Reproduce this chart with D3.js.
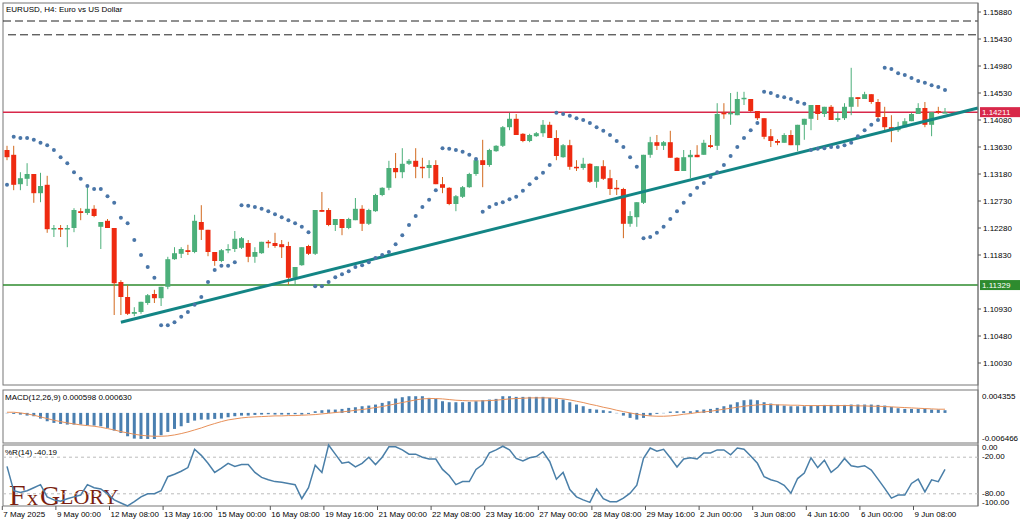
<!DOCTYPE html>
<meta charset="utf-8">
<script src="https://d3js.org/d3.v7.min.js"></script>
<style>
  body { margin: 0; background: #fff; }
  text { font-family: "Liberation Sans", Arial, sans-serif; font-size: 8px; fill: #000; }
</style>
<svg id="chart" width="1024" height="524"></svg>
<script>
// EURUSD H4 candles: [open, high, low, close]
var candles = [
[1.1358,1.1365,1.1341,1.1346],[1.1350,1.1365,1.1291,1.1300],[1.1301,1.1321,1.1291,1.1311],[1.1310,1.1336,1.1298,1.1318],
[1.1318,1.1318,1.1270,1.1286],[1.1286,1.1320,1.1271,1.1298],[1.1300,1.1315,1.1220,1.1226],[1.1226,1.1233,1.1213,1.1228],
[1.1228,1.1233,1.1213,1.1226],[1.1226,1.1233,1.1196,1.1228],[1.1228,1.1261,1.1221,1.1258],[1.1256,1.1261,1.1241,1.1253],
[1.1253,1.1300,1.1250,1.1260],[1.1260,1.1266,1.1246,1.1248],[1.1230,1.1238,1.1193,1.1238],[1.1240,1.1243,1.1228,1.1228],
[1.1228,1.1228,1.1083,1.1136],[1.1138,1.1141,1.1083,1.1113],[1.1113,1.1133,1.1083,1.1085],[1.1085,1.1096,1.1081,1.1088],
[1.1088,1.1105,1.1085,1.1105],[1.1103,1.1118,1.1100,1.1116],[1.1118,1.1125,1.1103,1.1111],[1.1111,1.1130,1.1098,1.1130],
[1.1130,1.1180,1.1126,1.1176],[1.1176,1.1196,1.1175,1.1186],[1.1185,1.1196,1.1178,1.1193],[1.1191,1.1200,1.1183,1.1188],
[1.1188,1.1250,1.1186,1.1240],[1.1238,1.1266,1.1208,1.1225],[1.1225,1.1225,1.1181,1.1188],[1.1188,1.1188,1.1165,1.1173],
[1.1173,1.1193,1.1171,1.1191],[1.1191,1.1201,1.1186,1.1193],[1.1193,1.1223,1.1188,1.1210],[1.1195,1.1213,1.1193,1.1211],
[1.1203,1.1208,1.1171,1.1180],[1.1180,1.1196,1.1170,1.1188],[1.1186,1.1205,1.1185,1.1205],[1.1205,1.1208,1.1195,1.1203],
[1.1203,1.1220,1.1195,1.1198],[1.1201,1.1208,1.1178,1.1196],[1.1198,1.1205,1.1133,1.1145],[1.1145,1.1163,1.1133,1.1163],
[1.1166,1.1196,1.1165,1.1196],[1.1198,1.1200,1.1183,1.1185],[1.1185,1.1258,1.1183,1.1258],[1.1258,1.1288,1.1255,1.1255],
[1.1258,1.1261,1.1231,1.1233],[1.1233,1.1243,1.1223,1.1243],[1.1243,1.1243,1.1216,1.1228],[1.1228,1.1245,1.1226,1.1243],
[1.1241,1.1278,1.1241,1.1260],[1.1260,1.1266,1.1223,1.1235],[1.1235,1.1260,1.1233,1.1258],[1.1256,1.1285,1.1255,1.1283],
[1.1283,1.1296,1.1281,1.1295],[1.1295,1.1340,1.1291,1.1328],[1.1328,1.1353,1.1311,1.1321],[1.1321,1.1361,1.1311,1.1335],
[1.1335,1.1343,1.1333,1.1340],[1.1340,1.1361,1.1311,1.1330],[1.1330,1.1345,1.1311,1.1328],[1.1328,1.1341,1.1311,1.1333],
[1.1333,1.1341,1.1301,1.1301],[1.1301,1.1313,1.1286,1.1295],[1.1295,1.1296,1.1266,1.1268],[1.1268,1.1283,1.1256,1.1281],
[1.1280,1.1298,1.1278,1.1296],[1.1296,1.1320,1.1295,1.1318],[1.1318,1.1343,1.1315,1.1341],[1.1341,1.1375,1.1296,1.1333],
[1.1333,1.1360,1.1330,1.1358],[1.1356,1.1366,1.1355,1.1365],[1.1365,1.1398,1.1363,1.1396],[1.1396,1.1420,1.1391,1.1410],
[1.1410,1.1418,1.1383,1.1383],[1.1385,1.1386,1.1371,1.1373],[1.1373,1.1385,1.1371,1.1383],[1.1381,1.1388,1.1380,1.1386],
[1.1386,1.1408,1.1380,1.1400],[1.1400,1.1405,1.1378,1.1378],[1.1378,1.1391,1.1341,1.1348],[1.1346,1.1368,1.1345,1.1366],
[1.1366,1.1375,1.1325,1.1330],[1.1330,1.1341,1.1323,1.1328],[1.1328,1.1345,1.1325,1.1335],[1.1335,1.1336,1.1303,1.1305],
[1.1305,1.1331,1.1295,1.1331],[1.1331,1.1341,1.1308,1.1310],[1.1311,1.1325,1.1283,1.1293],[1.1295,1.1308,1.1283,1.1293],
[1.1293,1.1295,1.1211,1.1235],[1.1235,1.1256,1.1230,1.1248],[1.1246,1.1271,1.1230,1.1271],[1.1270,1.1350,1.1268,1.1350],
[1.1350,1.1380,1.1345,1.1371],[1.1371,1.1383,1.1358,1.1365],[1.1365,1.1373,1.1358,1.1371],[1.1371,1.1390,1.1345,1.1345],
[1.1345,1.1346,1.1323,1.1323],[1.1323,1.1358,1.1323,1.1346],[1.1346,1.1358,1.1311,1.1350],[1.1350,1.1366,1.1346,1.1346],
[1.1350,1.1375,1.1350,1.1370],[1.1366,1.1383,1.1361,1.1363],[1.1365,1.1436,1.1358,1.1418],[1.1420,1.1436,1.1410,1.1418],
[1.1418,1.1453,1.1400,1.1420],[1.1416,1.1455,1.1416,1.1443],[1.1443,1.1455,1.1433,1.1445],[1.1443,1.1443,1.1421,1.1423],
[1.1423,1.1423,1.1408,1.1411],[1.1411,1.1411,1.1376,1.1380],[1.1381,1.1393,1.1363,1.1373],[1.1373,1.1376,1.1366,1.1370],
[1.1370,1.1386,1.1370,1.1383],[1.1383,1.1391,1.1366,1.1366],[1.1366,1.1400,1.1356,1.1400],[1.1400,1.1410,1.1375,1.1410],
[1.1410,1.1433,1.1391,1.1433],[1.1433,1.1433,1.1408,1.1418],[1.1418,1.1430,1.1413,1.1430],[1.1430,1.1433,1.1408,1.1408],
[1.1408,1.1420,1.1405,1.1411],[1.1411,1.1436,1.1408,1.1430],[1.1430,1.1495,1.1416,1.1446],[1.1446,1.1446,1.1430,1.1443],
[1.1443,1.1455,1.1443,1.1451],[1.1451,1.1451,1.1435,1.1438],[1.1438,1.1443,1.1408,1.1413],[1.1413,1.1430,1.1390,1.1396],
[1.1396,1.1416,1.1371,1.1393],[1.1391,1.1405,1.1388,1.1396],[1.1396,1.1411,1.1396,1.1406],[1.1406,1.1420,1.1406,1.1418],
[1.1418,1.1436,1.1418,1.1428],[1.1428,1.1438,1.1396,1.1400],[1.1400,1.1421,1.1381,1.1421],[1.1423,1.1430,1.1418,1.1421],
[1.1421,1.1428,1.1420,1.1421]
];

// Parabolic SAR, one per bar
var sar = [1.1300,
1.1380,1.1378,1.1378,1.1375,1.1370,1.1366,1.1358,1.1346,1.1336,1.1321,1.1310,1.1298,1.1293,1.1293,1.1281,1.1270,1.1245,1.1236,1.1208,1.1183,1.1163,1.1145,
1.1066,1.1066,1.1071,1.1080,1.1088,1.1100,1.1113,1.1138,1.1158,1.1165,1.1165,1.1171,
1.1266,1.1265,1.1263,1.1260,1.1256,1.1251,1.1246,1.1241,1.1236,1.1230,1.1221,
1.1131,1.1131,1.1138,1.1146,1.1151,1.1156,1.1163,1.1166,1.1171,1.1178,1.1183,1.1188,1.1201,1.1216,1.1233,1.1248,1.1263,1.1275,1.1291,
1.1361,1.1360,1.1358,1.1355,1.1350,1.1343,
1.1255,1.1263,1.1268,1.1271,1.1276,1.1280,1.1290,1.1301,1.1311,1.1320,1.1333,
1.1420,1.1418,1.1415,1.1411,1.1408,1.1403,1.1396,1.1390,1.1383,1.1373,1.1363,1.1346,1.1330,
1.1211,1.1213,1.1220,1.1230,1.1243,1.1256,1.1270,1.1283,1.1295,1.1303,1.1313,1.1321,1.1333,1.1348,
1.1363,1.1378,1.1391,1.1403,
1.1455,1.1453,1.1448,1.1446,1.1443,1.1438,1.1435,
1.1358,1.1360,1.1361,1.1363,1.1363,1.1366,1.1370,1.1381,1.1391,1.1400,1.1408,
1.1495,1.1493,1.1486,1.1483,1.1478,1.1473,1.1470,1.1466,1.1463,1.1458];

// MACD(12,26,9), in units of 1e-4
var macdHist = [1.7,0,-4.3,-6.9,-8.6,-14.6,-21.5,-25.8,-28.4,-30.1,-30.1,-30.1,-31.8,-32.7,-34.4,-38.7,-45.6,-51.6,-60.2,-66.2,
-67.1,-67.1,-67.1,-57.6,-49.0,-41.3,-34.4,-25.8,-19.8,-17.2,-17.2,-15.5,-14.6,-11.2,-8.6,-6.9,-6.9,-5.2,-4.3,-3.4,
-4.3,-4.3,-4.3,-3.4,-1.7,0,4.3,6.9,8.6,8.6,10.3,12.9,14.6,17.2,18.9,21.5,25.8,30.1,37.0,40.4,
43.0,43.0,43.0,38.7,36.1,30.1,27.5,27.5,27.5,28.4,30.1,32.7,34.4,36.1,43.0,43.0,41.3,41.3,41.3,41.3,
41.3,38.7,36.1,34.4,27.5,21.5,17.2,10.3,8.6,6.9,4.3,1.7,-6.9,-12.9,-17.2,-12.9,-6.9,0,1.7,3.4,
4.3,4.3,4.3,6.9,8.6,10.3,12.9,17.2,21.5,27.5,32.7,34.4,32.7,27.5,24.1,21.5,18.9,17.2,17.2,17.2,
18.9,18.9,20.6,20.6,20.6,20.6,21.5,21.5,21.5,21.5,20.6,18.9,15.5,12.0,10.3,10.3,10.3,10.3,8.6,8.6,6.9];
var macdSignal = [1.7,1.7,0,-2.6,-6.0,-10.3,-14.6,-18.9,-22.4,-25.8,-28.4,-31.0,-32.7,-34.4,-37.0,-40.4,-43.9,-48.2,-51.6,-55.0,
-57.6,-59.3,-60.2,-60.2,-59.3,-56.8,-53.3,-49.0,-43.9,-38.7,-32.7,-27.5,-22.4,-18.1,-15.5,-12.9,-11.2,-10.3,-9.5,-8.6,
-7.7,-7.7,-6.9,-6.9,-6.0,-5.2,-4.3,-2.6,-0.9,0.9,2.6,4.3,6.9,8.6,11.2,13.8,16.3,19.8,23.2,26.7,
30.1,33.5,36.1,37.0,37.0,36.1,34.4,32.7,31.8,31.0,31.0,31.0,31.8,32.7,34.4,36.1,37.0,37.8,38.7,38.7,
38.7,38.7,37.8,36.1,33.5,30.1,26.7,22.4,18.9,14.6,11.2,6.9,3.4,0,-3.4,-6.0,-7.7,-8.6,-8.6,-7.7,
-6.0,-3.4,-1.7,0.9,2.6,4.3,6.9,9.5,12.0,14.6,17.2,18.9,20.6,21.5,21.5,20.6,20.6,19.8,19.8,18.9,
18.9,18.9,18.9,18.9,18.9,18.9,18.9,18.1,18.1,17.2,17.2,16.3,15.5,14.6,13.8,12.9,12.0,11.2,10.3,9.5,9.5];

// Williams %R(14)
var wpr = [-35,-75,-78,-75,-70,-65,-85,-90,-92,-88,-85,-82,-65,-70,-72,-80,-90,-95,-100,-93,
-85,-80,-80,-75,-52,-48,-43,-37,-7,-17,-30,-45,-38,-30,-35,-32,-32,-45,-53,-57,
-60,-61,-63,-65,-88,-70,-33,-45,0,-15,-30,-28,-36,-30,-20,-32,-20,-3,-3,-8,
-15,-15,-20,-23,-23,-40,-50,-65,-60,-60,-40,-32,-13,-8,-2,-8,-22,-26,-21,-19,
-11,-27,-56,-45,-73,-85,-90,-94,-72,-88,-93,-93,-87,-79,-66,-22,-5,-10,-7,-21,
-36,-23,-21,-23,-13,-13,-8,-8,-16,-5,-7,-18,-30,-52,-57,-60,-66,-79,-55,-46,
-21,-37,-25,-45,-36,-22,-34,-36,-34,-41,-56,-71,-87,-82,-82,-63,-56,-77,-57,-60,-40];

var priceTicks = [1.15880,1.15430,1.14980,1.14530,1.14080,1.13630,1.13180,1.12730,1.12280,1.11830,1.10930,1.10480,1.10030];
var timeLabels = ["7 May 2025","9 May 00:00","12 May 08:00","13 May 16:00","15 May 00:00","16 May 08:00","19 May 16:00","21 May 00:00","22 May 08:00","23 May 16:00","27 May 00:00","28 May 08:00","29 May 16:00","2 Jun 00:00","3 Jun 08:00","4 Jun 16:00","6 Jun 00:00","9 Jun 08:00"];
var timeLabelBars = [-1,7,15,23,31,39,47,55,63,71,79,87,95,103,111,119,127,135];
var resistance = 1.14211, support = 1.11329;
var dashedLevels = [1.1573, 1.1550];
var trendline = [[17, 1.1071], [146, 1.1428]];

var svg = d3.select("#chart");
var L = 3, R = 978;
var x = d3.scaleLinear().domain([0, 140]).range([7, 945]);
var y = d3.scaleLinear().domain([1.1588, 1.1003]).range([12, 363]);
var ym = d3.scaleLinear().domain([-64.66, 43.55]).range([438, 396]);
var yw = d3.scaleLinear().domain([-100, 0]).range([506, 445]);

// panel frames
[[3, 385], [390, 443], [445, 506]].forEach(function(p) {
  svg.append("rect").attr("x", L).attr("y", p[0]).attr("width", R - L).attr("height", p[1] - p[0])
    .attr("fill", "none").attr("stroke", "#777").attr("stroke-width", 1);
});

// watermark logo
var logo = svg.append("g").style("font-family", "Liberation Serif, serif");
[["F", 9, 505, 30], ["x", 27, 505, 22], ["G", 40, 505, 28], ["LORY", 60, 504, 22]].forEach(function(t) {
  logo.append("text").attr("x", t[1]).attr("y", t[2]).style("font-family", "Liberation Serif, serif")
    .style("font-size", t[3] + "px").style("fill", "#7a1f10").text(t[0]);
});

// dashed levels
svg.selectAll(".dash").data(dashedLevels).enter().append("line")
  .attr("x1", function(d, i) { return i ? 8 : L; }).attr("x2", R)
  .attr("y1", function(d) { return y(d); }).attr("y2", function(d) { return y(d); })
  .attr("stroke", "#222").attr("stroke-dasharray", "8,4");

// support / resistance
svg.append("line").attr("x1", L).attr("x2", R).attr("y1", y(resistance)).attr("y2", y(resistance))
  .attr("stroke", "#d8284a").attr("stroke-width", 1.5);
svg.append("line").attr("x1", L).attr("x2", R).attr("y1", y(support)).attr("y2", y(support))
  .attr("stroke", "#2e8b2e").attr("stroke-width", 1.5);

// candles
var c = svg.append("g").selectAll("g").data(candles).enter().append("g");
c.append("line")
  .attr("x1", function(d, i) { return x(i); }).attr("x2", function(d, i) { return x(i); })
  .attr("y1", function(d) { return y(d[1]); }).attr("y2", function(d) { return y(d[2]); })
  .attr("stroke", function(d) { return d[3] >= d[0] ? "#4caf7a" : "#d2691e"; });
c.append("rect")
  .attr("x", function(d, i) { return x(i) - 2.5; }).attr("width", 5)
  .attr("y", function(d) { return y(Math.max(d[0], d[3])); })
  .attr("height", function(d) { return Math.max(1.5, Math.abs(y(d[0]) - y(d[3]))); })
  .attr("fill", function(d) { return d[3] >= d[0] ? "#4caf7a" : "#ee2a10"; });

// trendline
svg.append("line")
  .attr("x1", x(trendline[0][0])).attr("y1", y(trendline[0][1]))
  .attr("x2", Math.min(R, x(trendline[1][0]))).attr("y2", y(trendline[1][1]))
  .attr("stroke", "#138585").attr("stroke-width", 3);

// SAR
svg.append("g").selectAll("circle").data(sar).enter().append("circle")
  .attr("cx", function(d, i) { return x(i); }).attr("cy", function(d) { return y(d); })
  .attr("r", 2).attr("fill", "#4a76a8");

// price axis
svg.append("line").attr("x1", R).attr("x2", R).attr("y1", 3).attr("y2", 506).attr("stroke", "#777");
priceTicks.forEach(function(v) {
  svg.append("line").attr("x1", R).attr("x2", R + 3).attr("y1", y(v)).attr("y2", y(v)).attr("stroke", "#555");
  svg.append("text").attr("x", R + 5).attr("y", y(v) + 3).text(d3.format(".5f")(v));
});

// level boxes
function levelBox(v, col) {
  svg.append("rect").attr("x", R + 2).attr("y", y(v) - 5).attr("width", 40).attr("height", 10).attr("fill", col);
  svg.append("text").attr("x", R + 4).attr("y", y(v) + 3).style("fill", "#fff").text(d3.format(".5f")(v));
}
levelBox(resistance, "#d8284a");
levelBox(support, "#2e8b2e");

// MACD
svg.append("g").selectAll("line").data(macdHist).enter().append("line")
  .attr("x1", function(d, i) { return x(i); }).attr("x2", function(d, i) { return x(i); })
  .attr("y1", ym(0)).attr("y2", function(d) { return ym(d) + (Math.abs(ym(d) - ym(0)) < 1 ? 1 : 0); })
  .attr("stroke", "#4a7fb0").attr("stroke-width", 3);
svg.append("path").datum(macdSignal)
  .attr("d", d3.line().x(function(d, i) { return x(i); }).y(function(d) { return ym(d); }))
  .attr("fill", "none").attr("stroke", "#e8915a").attr("stroke-width", 1);
svg.append("text").attr("x", 5).attr("y", 400).text("MACD(12,26,9) 0.000598 0.000630");
svg.append("text").attr("x", R + 4).attr("y", 399).text("0.004355");
svg.append("text").attr("x", R + 4).attr("y", 441).text("-0.006466");

// Williams %R
[-20, -80].forEach(function(v) {
  svg.append("line").attr("x1", L).attr("x2", R).attr("y1", yw(v)).attr("y2", yw(v))
    .attr("stroke", "#bbb").attr("stroke-dasharray", "3,3");
});
svg.append("path").datum(wpr)
  .attr("d", d3.line().x(function(d, i) { return x(i); }).y(function(d) { return yw(d); }))
  .attr("fill", "none").attr("stroke", "#4a7fa8").attr("stroke-width", 1.5);
svg.append("text").attr("x", 5).attr("y", 455).text("%R(14) -40.19");
[["0.00", 450], ["-20.00", 459], ["-80.00", 496], ["-100.00", 505]].forEach(function(t) {
  svg.append("text").attr("x", R + 4).attr("y", t[1]).text(t[0]);
});

// time axis
timeLabelBars.forEach(function(b, i) {
  var xx = x(b) + 2;
  svg.append("line").attr("x1", xx).attr("x2", xx).attr("y1", 506).attr("y2", 510).attr("stroke", "#555");
  svg.append("text").attr("x", xx + 1).attr("y", 517).text(timeLabels[i]);
});

svg.append("text").attr("x", 6).attr("y", 12).text("EURUSD, H4:  Euro vs US Dollar");
</script>
